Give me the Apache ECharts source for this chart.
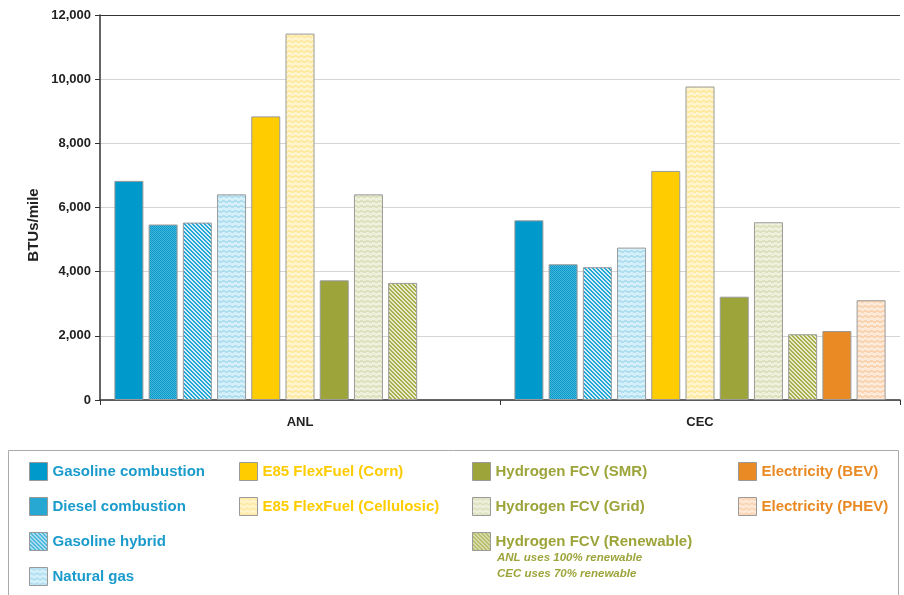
<!DOCTYPE html>
<html>
<head>
<meta charset="utf-8">
<title>BTUs/mile by pathway</title>
<script src="https://cdn.jsdelivr.net/npm/echarts@6/dist/echarts.min.js"></script>
<style>
  html, body { margin: 0; padding: 0; background: #ffffff; }
  #chart { width: 904px; height: 595px; }
</style>
</head>
<body>
<div id="chart"></div>
<script>
// Study groups on the x axis
const categories = ['ANL', 'CEC'];

// Energy use per pathway, BTUs/mile, for [ANL, CEC]
const gasolineCombustion   = [6830, 5600];
const dieselCombustion     = [5470, 4230];
const gasolineHybrid       = [5530, 4140];
const naturalGas           = [6410, 4750];
const e85Corn              = [8840, 7140];
const e85Cellulosic        = [11420, 9770];
const hydrogenSMR          = [3730, 3220];
const hydrogenGrid         = [6410, 5540];
const hydrogenRenewable    = [3650, 2050];
const electricityBEV       = [null, 2150];
const electricityPHEV      = [null, 3110];

// Value axis range
const yMin = 0;
const yMax = 12000;
const yStep = 2000;

const FONT = '"Liberation Sans", Arial, sans-serif';
const BLUE = '#0099CC';
const YELLOW = '#FFCC00';
const OLIVE = '#9DA43A';
const ORANGE = '#E98A25';

// Small repeating canvas tiles used as fill patterns
function tile(w, h, painter) {
  const c = document.createElement('canvas');
  c.width = w; c.height = h;
  const ctx = c.getContext('2d');
  painter(ctx, w, h);
  return { image: c, repeat: 'repeat' };
}
function checker(a, b) {
  return tile(2, 2, (ctx) => {
    ctx.fillStyle = a; ctx.fillRect(0, 0, 2, 2);
    ctx.fillStyle = b; ctx.fillRect(1, 0, 1, 1); ctx.fillRect(0, 1, 1, 1);
  });
}
function diagonal(line, bg) {
  return tile(4, 4, (ctx) => {
    ctx.fillStyle = bg; ctx.fillRect(0, 0, 4, 4);
    ctx.fillStyle = line;
    for (let y = 0; y < 4; y++) {
      ctx.fillRect(y % 4, y, 1, 1);
      ctx.fillRect((y + 1) % 4, y, 1, 1);
    }
  });
}
function stripes(line, bg) {
  return tile(6, 5, (ctx) => {
    ctx.fillStyle = bg; ctx.fillRect(0, 0, 6, 5);
    ctx.fillStyle = line;
    ctx.fillRect(0, 0, 3, 2);
    ctx.fillRect(3, 1, 3, 2);
  });
}

const seriesDefs = [
  { name: 'Gasoline combustion', data: gasolineCombustion, fill: BLUE },
  { name: 'Diesel combustion', data: dieselCombustion, fill: checker('#0A9BCB', '#45B5DC') },
  { name: 'Gasoline hybrid', data: gasolineHybrid, fill: diagonal('#22A6D4', '#D6EFF8') },
  { name: 'Natural gas', data: naturalGas, fill: stripes('#AEDEF0', '#D6F0F9') },
  { name: 'E85 FlexFuel (Corn)', data: e85Corn, fill: YELLOW },
  { name: 'E85 FlexFuel (Cellulosic)', data: e85Cellulosic, fill: stripes('#FFE8A0', '#FFF5CC') },
  { name: 'Hydrogen FCV (SMR)', data: hydrogenSMR, fill: OLIVE },
  { name: 'Hydrogen FCV (Grid)', data: hydrogenGrid, fill: stripes('#DCE0BC', '#EEF0DC') },
  { name: 'Hydrogen FCV (Renewable)', data: hydrogenRenewable, fill: diagonal('#A8AF50', '#E8EBC8') },
  { name: 'Electricity (BEV)', data: electricityBEV, fill: ORANGE },
  { name: 'Electricity (PHEV)', data: electricityPHEV, fill: stripes('#F9D3B0', '#FDE9D8') }
];

const series = seriesDefs.map((d) => ({
  name: d.name,
  type: 'bar',
  data: d.data,
  barWidth: 29,
  barGap: '18%',
  itemStyle: { color: d.fill, borderColor: '#9a9a9a', borderWidth: 1 },
  emphasis: { disabled: true },
  animation: false
}));

function legendColumn(left, names, color) {
  return {
    left: left,
    top: 462,
    orient: 'vertical',
    padding: 0,
    itemGap: 16,
    itemWidth: 18,
    itemHeight: 18,
    itemTextGap: 5,
    icon: 'rect',
    selectedMode: false,
    data: names,
    itemStyle: { borderColor: '#9a9a9a', borderWidth: 1 },
    textStyle: { color: color, fontFamily: FONT, fontWeight: 'bold', fontSize: 15 }
  };
}

const chart = echarts.init(document.getElementById('chart'), null, { renderer: 'canvas' });

chart.setOption({
  backgroundColor: '#ffffff',
  animation: false,
  grid: { left: 100, right: 4, top: 15, bottom: 195 },
  xAxis: {
    type: 'category',
    data: categories,
    axisLine: { lineStyle: { color: '#333333', width: 1.5 } },
    axisTick: { show: true, length: 5, lineStyle: { color: '#333333' } },
    axisLabel: { margin: 16, color: '#222222', fontFamily: FONT, fontWeight: 'bold', fontSize: 13 }
  },
  yAxis: {
    type: 'value',
    min: yMin,
    max: yMax,
    interval: yStep,
    axisLine: { show: true, lineStyle: { color: '#333333', width: 1.5 } },
    axisTick: { show: true, length: 5, lineStyle: { color: '#333333' } },
    axisLabel: {
      margin: 9,
      color: '#222222',
      fontFamily: FONT,
      fontWeight: 'bold',
      fontSize: 13,
      formatter: (v) => v.toLocaleString('en-US')
    },
    splitLine: {
      show: true,
      lineStyle: {
        color: ['#d4d4d4', '#d4d4d4', '#d4d4d4', '#d4d4d4', '#d4d4d4', '#d4d4d4', '#333333'],
        width: 1
      }
    }
  },
  legend: [
    legendColumn(29, ['Gasoline combustion', 'Diesel combustion', 'Gasoline hybrid', 'Natural gas'], '#1A9BCC'),
    legendColumn(239, ['E85 FlexFuel (Corn)', 'E85 FlexFuel (Cellulosic)'], YELLOW),
    legendColumn(472, ['Hydrogen FCV (SMR)', 'Hydrogen FCV (Grid)', 'Hydrogen FCV (Renewable)'], OLIVE),
    legendColumn(738, ['Electricity (BEV)', 'Electricity (PHEV)'], ORANGE)
  ],
  graphic: [
    {
      type: 'text',
      x: 34, y: 225,
      rotation: Math.PI / 2,
      style: {
        text: 'BTUs/mile',
        fill: '#222222',
        font: 'bold 15px ' + FONT,
        textAlign: 'center',
        textVerticalAlign: 'middle'
      }
    },
    {
      type: 'rect',
      shape: { x: 8.5, y: 450.5, width: 890, height: 160 },
      style: { fill: 'none', stroke: '#aaaaaa', lineWidth: 1 },
      z: -1
    },
    {
      type: 'text',
      x: 497, y: 558,
      style: {
        text: 'ANL uses 100% renewable',
        fill: OLIVE,
        font: 'italic bold 11.5px ' + FONT,
        textVerticalAlign: 'middle'
      }
    },
    {
      type: 'text',
      x: 497, y: 574,
      style: {
        text: 'CEC uses 70% renewable',
        fill: OLIVE,
        font: 'italic bold 11.5px ' + FONT,
        textVerticalAlign: 'middle'
      }
    }
  ],
  series: series
});
</script>
</body>
</html>
